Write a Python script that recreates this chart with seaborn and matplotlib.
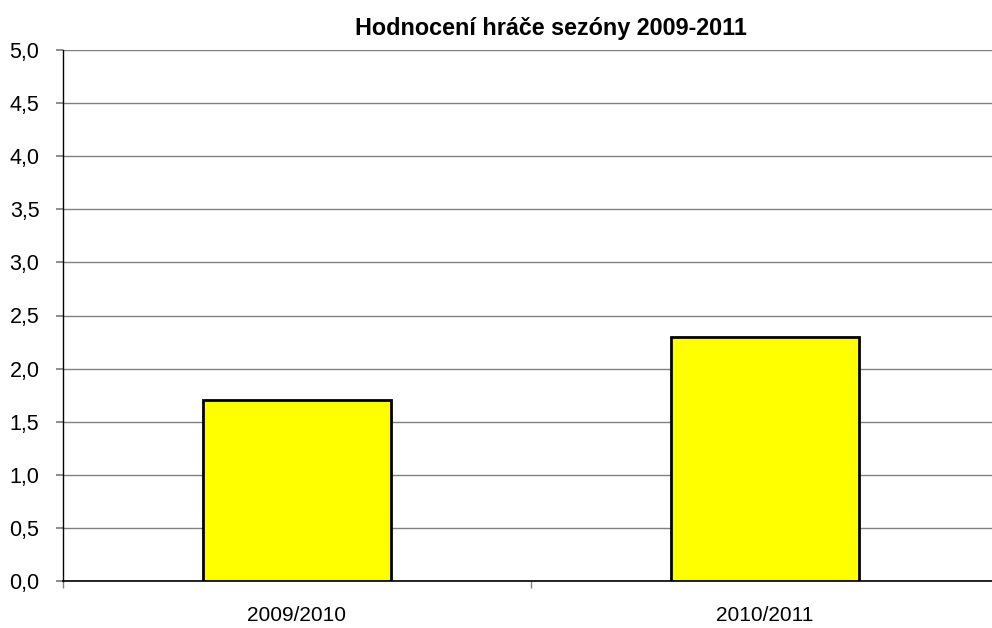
import matplotlib
matplotlib.use('Agg')
import matplotlib.pyplot as plt
import matplotlib.ticker as mticker
import pandas as pd
import seaborn as sns

# Data
seasons = ['2009/2010', '2010/2011']
ratings = [1.7, 2.3]

df = pd.DataFrame({'season': seasons, 'rating': ratings})

sns.set_theme(style='white')
plt.rcParams['font.family'] = ['Liberation Sans', 'DejaVu Sans']

fig = plt.figure(figsize=(9.92, 6.28), dpi=100)
ax = fig.add_axes([63 / 992, 1 - 581 / 628, 936 / 992, 531 / 628])

sns.barplot(data=df, x='season', y='rating', color='#FFFF00', edgecolor='black',
            linewidth=2, width=0.4, saturation=1, ax=ax, zorder=3)

ax.set_xlim(-0.5, 1.5)
ax.set_ylim(0, 5)
ax.yaxis.set_major_locator(mticker.MultipleLocator(0.5))
ax.yaxis.set_major_formatter(mticker.FuncFormatter(lambda v, p: f'{v:.1f}'.replace('.', ',')))
ax.grid(axis='y', color='#808080', linewidth=1, zorder=0)
ax.set_axisbelow(True)

for s in ['top', 'right']:
    ax.spines[s].set_visible(False)
ax.spines['left'].set_color('black')
ax.spines['bottom'].set_color('black')
ax.spines['left'].set_linewidth(1)
ax.spines['bottom'].set_linewidth(1.2)

ax.tick_params(axis='y', which='major', left=True, length=5, color='#808080',
               labelsize=15.5, pad=12, labelcolor='black')
ax.tick_params(axis='x', which='major', bottom=False, labelsize=15, pad=12,
               labelcolor='black')
ax.set_xticks([-0.5, 0.5, 1.5], minor=True)
ax.tick_params(axis='x', which='minor', bottom=True, length=5, color='#808080')

ax.set_xlabel('')
ax.set_ylabel('')

fig.text(551 / 992, 1 - 29 / 628, 'Hodnocení hráče sezóny 2009-2011',
         ha='center', va='center', fontsize=16.8, fontweight='bold', color='black')

fig.savefig('out.png', dpi=100)
